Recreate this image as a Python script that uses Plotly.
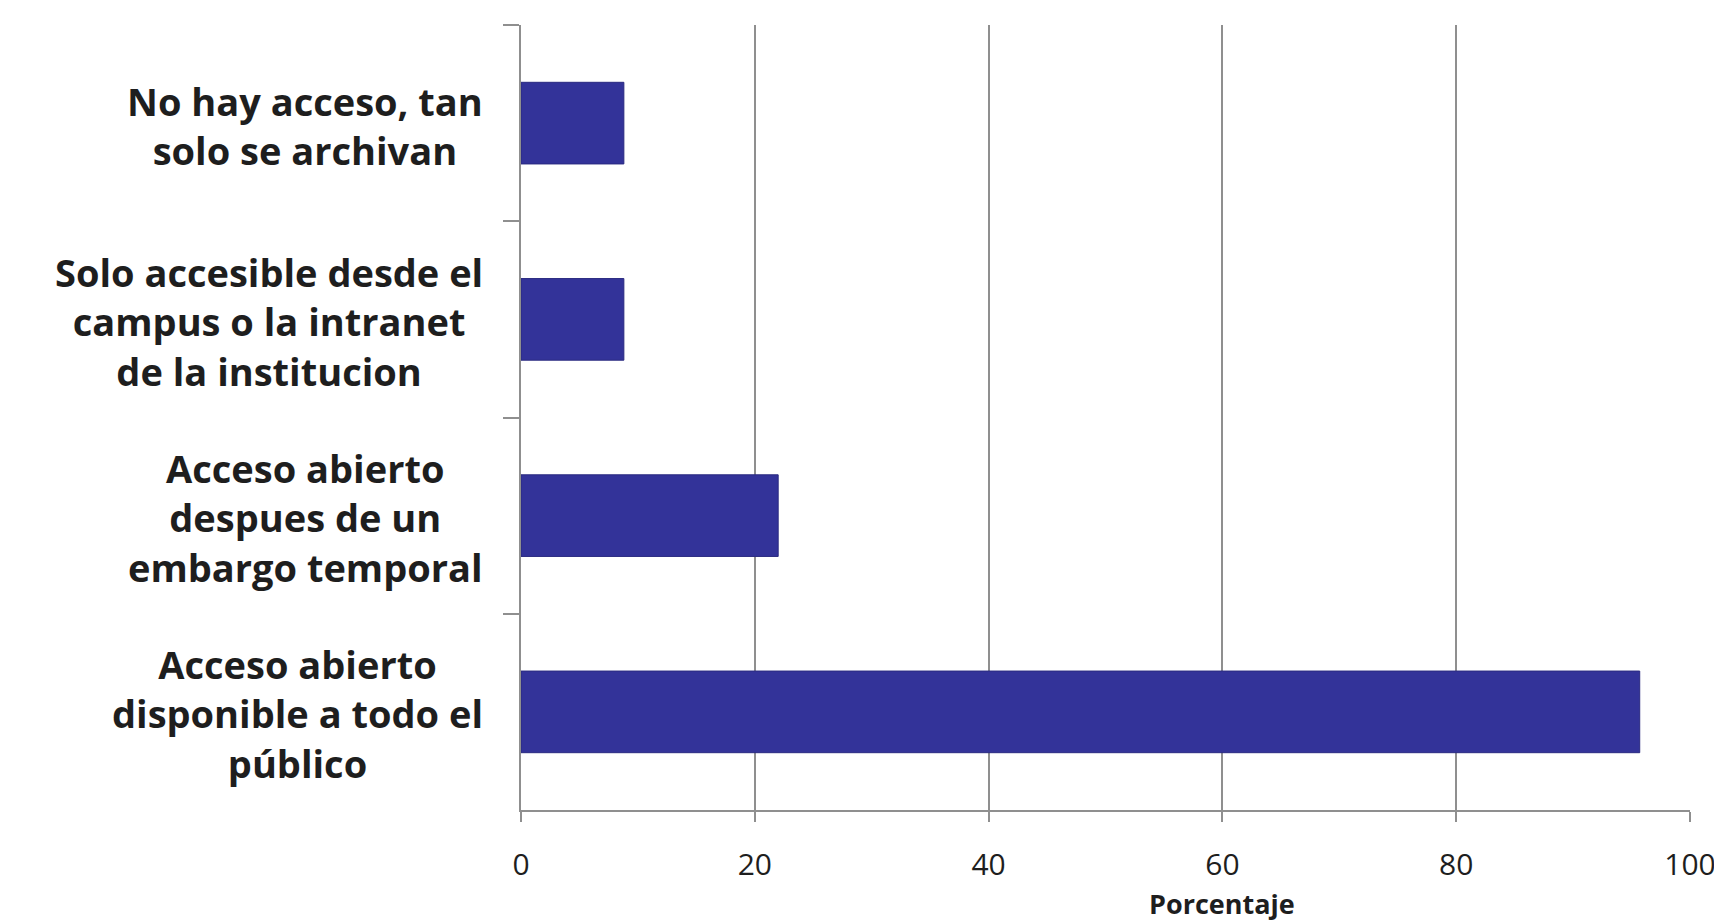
import plotly.graph_objects as go

categories = [
    "No hay acceso, tan<br>solo se archivan",
    "Solo accesible desde el<br>campus o la intranet<br>de la institucion",
    "Acceso abierto<br>despues de un<br>embargo temporal",
    "Acceso abierto<br>disponible a todo el<br>público",
]
values = [8.8, 8.8, 22.0, 95.7]
x_ticks = [0, 20, 40, 60, 80, 100]
x_title = "Porcentaje"

BAR = "#333399"
GRID = "#8f8f8f"
TEXT = "#1e1e1e"
FONT = "Open Sans"

fig = go.Figure()
fig.add_trace(go.Bar(
    x=values, y=categories, orientation="h",
    marker=dict(color=BAR, line=dict(color="#2a2a80", width=1)),
))

for c in categories:
    fig.add_annotation(
        x=0, y=c, xref="x", yref="y", text=c, showarrow=False,
        xanchor="right", yanchor="middle", align="center", xshift=-36, yshift=-2,
        font=dict(family=FONT, size=38, color=TEXT, weight="bold"),
    )

fig.add_annotation(
    x=0.60, y=-0.119, xref="paper", yref="paper", text=x_title, showarrow=False,
    xanchor="center", yanchor="middle",
    font=dict(family=FONT, size=27, color=TEXT, weight="bold"),
)

fig.update_layout(
    width=1722, height=922,
    margin=dict(l=513, r=40, t=17, b=120),
    paper_bgcolor="white", plot_bgcolor="white",
    showlegend=False,
    bargap=0.584,
    xaxis=dict(
        range=[0, 100], tickvals=x_ticks, ticktext=[str(v) for v in x_ticks],
        showgrid=True, gridcolor=GRID, gridwidth=2, zeroline=False,
        showline=True, linecolor=GRID, linewidth=2,
        ticks="outside", ticklen=10, tickwidth=2, tickcolor=GRID,
        ticklabelstandoff=17,
        tickfont=dict(family=FONT, size=30, color=TEXT),
    ),
    yaxis=dict(
        autorange="reversed", type="category",
        showticklabels=False, showgrid=False, zeroline=False,
        showline=True, linecolor=GRID, linewidth=2,
        ticks="outside", tickson="boundaries", ticklen=16, tickwidth=2, tickcolor=GRID,
    ),
)

fig.write_html("out.html")
